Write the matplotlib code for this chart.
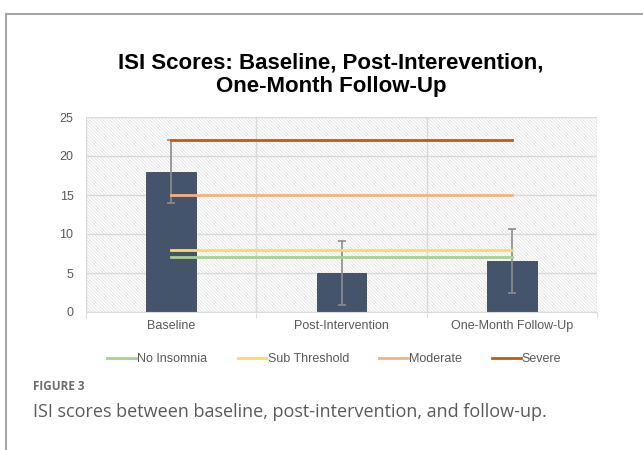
import numpy as np
import matplotlib.pyplot as plt
from matplotlib.patches import Rectangle
from matplotlib.lines import Line2D

# datos
categorias = ['Baseline', 'Post-Intervention', 'One-Month Follow-Up']
medias = [18, 5, 6.5]
errores = [4, 4.1, 4.1]
umbrales = ['No Insomnia', 'Sub Threshold', 'Moderate', 'Severe']
valores_umbral = [7, 8, 15, 22]
colores_umbral = ['#A9D18E', '#FFD966', '#F4B183', '#C55A11']

plt.rcParams['hatch.linewidth'] = 0.6
fig = plt.figure(figsize=(6.43, 4.5), dpi=100)
plt.rcParams['font.family'] = ['Liberation Sans', 'DejaVu Sans']

# marco de la figura
fig.add_artist(Line2D([6/643, 6/643], [0, 1 - 14/450], color='#a6a6a6', lw=1.5, transform=fig.transFigure))
fig.add_artist(Line2D([6/643, 1], [1 - 14/450, 1 - 14/450], color='#a6a6a6', lw=1.5, transform=fig.transFigure))

ax = fig.add_axes([86/643, 138/450, 511/643, 195/450])
x = np.arange(len(categorias))

# fondo rayado
ax.add_patch(Rectangle((0, 0), 1, 1, transform=ax.transAxes, facecolor='white',
                       edgecolor='#e2e2e2', hatch='\\' * 10, lw=0, zorder=0))

ax.set_xlim(-0.5, 2.5)
ax.set_ylim(0, 25)
ax.set_yticks(np.arange(0, 26, 5))
ax.set_xticks(x)
ax.set_xticklabels(categorias)
ax.set_xticks([-0.5, 0.5, 1.5, 2.5], minor=True)
ax.grid(axis='y', color='#d9d9d9', lw=1, zorder=1)
ax.grid(axis='x', which='minor', color='#d9d9d9', lw=1, zorder=1)
ax.set_axisbelow(True)

ax.bar(x, medias, width=0.29, color='#44546A', edgecolor='#3a4757', lw=0.6, zorder=2)
ax.errorbar(x, medias, yerr=errores, fmt='none', ecolor='#8c8c8c', elinewidth=1.2,
            capsize=3, capthick=1.2, zorder=3)

for nombre, val, col in zip(umbrales, valores_umbral, colores_umbral):
    ax.plot([x[0], x[-1]], [val, val], color=col, lw=2, label=nombre, zorder=4)

for s in ['top', 'right', 'left']:
    ax.spines[s].set_visible(False)
ax.spines['bottom'].set_color('#d9d9d9')
ax.tick_params(axis='y', length=0, labelsize=9, labelcolor='#595959', pad=9)
ax.tick_params(axis='x', which='major', length=0, labelsize=9, labelcolor='#595959', pad=6)
ax.tick_params(axis='x', which='minor', length=4, color='#d9d9d9')

fig.text(0.515, 1 - 75/450, 'ISI Scores: Baseline, Post-Interevention,\nOne-Month Follow-Up',
         ha='center', va='center', fontsize=16, fontweight='bold', linespacing=1.15)

fig.legend(loc='center', bbox_to_anchor=(0.52, 1 - 359/450), ncol=4, frameon=False,
           fontsize=9, labelcolor='#595959', handlelength=2.3, handletextpad=0.1,
           columnspacing=2.4)

fig.text(33/643, 1 - 386/450, 'FIGURE 3', fontsize=8.5, fontweight='bold', color='#6b6b6b',
         va='center', family=['Open Sans', 'DejaVu Sans'])
fig.text(33/643, 1 - 412/450, 'ISI scores between baseline, post-intervention, and follow-up.',
         fontsize=13, color='#5a5a5a', va='center', family=['Open Sans', 'DejaVu Sans'])

fig.savefig('out.png', dpi=100)
